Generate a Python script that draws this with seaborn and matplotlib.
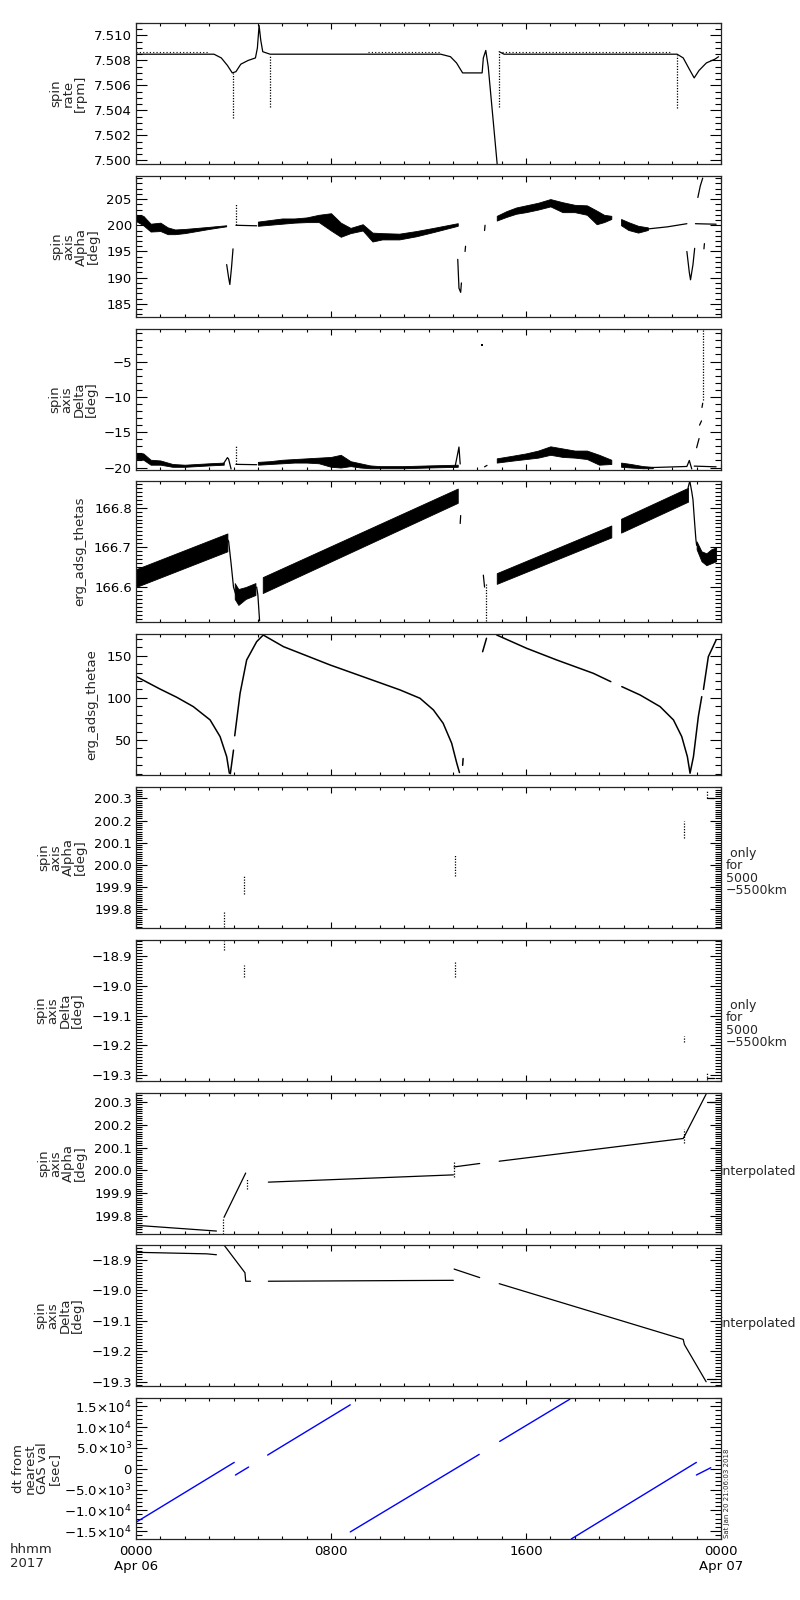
import numpy as np
import pandas as pd
import matplotlib
matplotlib.use('Agg')
import matplotlib.pyplot as plt
from matplotlib.ticker import MultipleLocator, FixedLocator, FixedFormatter, FuncFormatter
import seaborn as sns

sns.set_style('ticks')
plt.rcParams['font.family'] = ['DejaVu Sans']
plt.rcParams['font.size'] = 9

N = None  # break in a line

# panel 1: spin rate [rpm]
rate_t = [0, 3.2, 3.5, 3.75, 3.95, 4.1, 4.3, 4.6, 4.9, 4.98, 5.05, 5.12, 5.2, 5.5, 12.5, 12.9, 13.15,
          13.4, 14.2, 14.25, 14.35, 14.45, 14.85, N,
          14.9, 15.1, 22.2, 22.45, 22.7, 22.9, 23.1, 23.4, 23.75, 23.9]
rate_v = [7.5085, 7.5085, 7.5082, 7.5076, 7.5070, 7.5071, 7.5077, 7.5080, 7.5082, 7.5090, 7.5108, 7.5096,
          7.5087, 7.5085, 7.5085, 7.5083, 7.5078, 7.5070, 7.5070, 7.5082, 7.5088, 7.5075, 7.4990, N,
          7.5087, 7.5085, 7.5085, 7.5082, 7.5073, 7.5066, 7.5072, 7.5078, 7.5081, 7.5083]
rate_upper_t = [0, 3.0, N, 9.5, 12.5, N, 15.0, 22.0]
rate_upper_v = [7.50865, 7.50865, N, 7.50866, 7.50866, N, 7.50866, 7.50866]
rate_sp_t = [3.98, 5.5, 14.9, 22.2]
rate_sp_lo = [7.5034, 7.5043, 7.5043, 7.5042]
rate_sp_hi = [7.5070, 7.5084, 7.5087, 7.5084]

# panel 2: spin axis Alpha [deg]
alpha_t = [3.72, 3.8, 3.85, 3.92, 3.98, N, 4.1, 4.95, N,
           13.2, 13.25, 13.32, 13.35, N, 13.5, 13.52, N, 14.3, 14.32, N,
           21.0, 21.8, 22.6, N, 22.6, 22.7, 22.75, 22.85, 22.92, N,
           23.05, 23.15, 23.25, N, 23.3, 23.32, N, 22.95, 23.8]
alpha_v = [192.5, 190.0, 188.7, 192.0, 195.5, N, 200.0, 199.9, N,
           193.5, 188.0, 187.2, 189.0, N, 195.0, 196.0, N, 199.0, 200.0, N,
           199.3, 199.7, 200.3, N, 195.0, 191.0, 189.6, 192.5, 195.6, N,
           205.3, 207.5, 209.0, N, 195.5, 196.5, N, 200.3, 200.2]
alpha_band_t = [[0, 0.3, 0.6, 1.0, 1.3, 1.6, 2.0, 2.5, 3.0, 3.7],
                [5.0, 5.5, 6.0, 6.5, 7.0, 7.5, 8.0, 8.4, 8.8, 9.3, 9.7, 10.1, 10.8, 11.5, 12.2, 13.2],
                [14.8, 15.2, 15.6, 16.0, 16.5, 17.0, 17.5, 18.0, 18.5, 18.9, 19.2, 19.5],
                [19.9, 20.2, 20.6, 21.0]]
alpha_band_lo = [[200.8, 200.0, 198.8, 198.9, 198.3, 198.3, 198.5, 198.9, 199.3, 199.8],
                 [199.9, 200.1, 200.3, 200.5, 200.6, 200.6, 199.0, 197.8, 198.5, 199.0, 196.9, 197.3, 197.3, 197.9, 198.7, 199.9],
                 [200.9, 201.6, 202.2, 202.5, 203.0, 203.6, 202.5, 202.5, 202.0, 200.2, 200.6, 201.2],
                 [200.0, 199.1, 198.6, 199.1]]
alpha_band_hi = [[202.0, 201.8, 200.3, 200.5, 199.6, 199.2, 199.3, 199.5, 199.7, 200.0],
                 [200.7, 201.0, 201.3, 201.3, 201.5, 202.0, 202.3, 200.5, 199.5, 200.2, 198.6, 198.5, 198.4, 198.9, 199.5, 200.4],
                 [201.8, 202.7, 203.4, 203.8, 204.3, 205.0, 204.4, 203.9, 203.8, 202.8, 202.0, 201.8],
                 [201.2, 200.6, 199.9, 199.6]]
alpha_sp_t = [4.1]
alpha_sp_lo = [200.0]
alpha_sp_hi = [204.0]

# panel 3: spin axis Delta [deg]
delta_t = [3.6, 3.75, 3.8, 3.9, N, 4.1, 4.95, N, 13.1, 13.2, 13.25, 13.3, N, 14.3, 14.4, N,
           21.2, 22.6, 22.7, 22.8, N, 22.9, 23.8, N, 23.0, 23.1, N, 23.12, 23.2, N, 23.22, 23.25]
delta_v = [-19.4, -18.6, -18.8, -20.2, N, -19.55, -19.6, N, -19.7, -18.0, -17.1, -19.5, N, -19.9, -19.7, N,
           -20.0, -19.85, -19.0, -20.2, N, -19.8, -19.9, N, -17.2, -15.9, N, -14.0, -13.4, N, -11.5, -10.9]
delta_band_t = [[0, 0.3, 0.6, 1.0, 1.5, 2.0, 2.5, 3.0, 3.6],
                [5.0, 5.5, 6.0, 6.5, 7.0, 7.5, 8.0, 8.4, 8.8, 9.2, 9.6, 10.0, 11.0, 12.0, 13.2],
                [14.8, 15.5, 16.0, 16.5, 17.0, 17.5, 18.0, 18.5, 19.0, 19.5],
                [19.9, 20.3, 20.8, 21.2]]
delta_band_lo = [[-18.8, -18.9, -19.6, -19.6, -19.9, -19.9, -19.8, -19.7, -19.6],
                 [-19.6, -19.5, -19.4, -19.3, -19.3, -19.4, -19.9, -20.0, -19.8, -20.0, -20.1, -20.1, -20.1, -20.0, -19.9],
                 [-19.3, -19.0, -18.8, -18.6, -18.2, -18.5, -18.6, -18.8, -19.6, -19.5],
                 [-19.9, -20.0, -20.1, -20.1]]
delta_band_hi = [[-18.0, -18.0, -18.9, -19.0, -19.5, -19.6, -19.5, -19.4, -19.3],
                 [-19.2, -19.1, -18.9, -18.8, -18.7, -18.6, -18.5, -18.2, -19.1, -19.4, -19.7, -19.8, -19.8, -19.7, -19.6],
                 [-18.7, -18.3, -18.0, -17.6, -17.0, -17.3, -17.6, -17.6, -18.2, -18.9],
                 [-19.3, -19.5, -19.8, -19.9]]
delta_sp_t = [4.1, 23.27]
delta_sp_lo = [-19.5, -10.5]
delta_sp_hi = [-17.0, -0.4]
delta_dot_t = [14.2]
delta_dot_v = [-2.6]

# panel 4: erg_adsg_thetas
thetas_t = [3.75, 3.8, 3.9, 4.0, 4.1, N, 4.95, 5.0, 5.07, N, 13.3, 13.32, N, 14.25, 14.3, N,
            22.65, 22.72, 22.8, 22.85, 22.92, 22.97, 23.0]
thetas_v = [166.72, 166.715, 166.66, 166.60, 166.58, N, 166.60, 166.58, 166.515, N, 166.76, 166.78, N,
            166.63, 166.60, N, 166.85, 166.867, 166.84, 166.82, 166.76, 166.72, 166.705]
thetas_band_t = [[0, 3.75], [4.05, 4.2, 4.5, 4.9], [5.2, 13.2], [14.8, 19.5], [19.9, 22.65],
                 [23.0, 23.2, 23.4, 23.6, 23.8]]
thetas_band_lo = [[166.600, 166.690], [166.57, 166.555, 166.57, 166.58], [166.585, 166.812],
                  [166.608, 166.725], [166.737, 166.815], [166.695, 166.665, 166.655, 166.66, 166.665]]
thetas_band_hi = [[166.645, 166.735], [166.61, 166.595, 166.60, 166.61], [166.625, 166.848],
                  [166.635, 166.755], [166.772, 166.850], [166.715, 166.69, 166.685, 166.695, 166.70]]
thetas_sp_t = [14.35]
thetas_sp_lo = [166.515]
thetas_sp_hi = [166.61]

# panel 5: erg_adsg_thetae
thetae_t = [0.03, 0.98, 1.67, 2.35, 3.04, 3.45, 3.72, 3.83, N, 3.87, 4.0, N,
            4.05, 4.27, 4.54, 4.95, 5.22, 6.05, 7.96, 10.83, 11.65, 12.2, 12.6, 12.95, 13.16, 13.27, N,
            13.4, 13.42, N, 14.22, 14.38, N, 14.8, 16.03, 17.26, 18.76, 19.48, N,
            19.93, 20.68, 21.5, 22.05, 22.39, 22.62, 22.73, 22.87, 23.07, 23.21, N, 23.28, 23.48, 23.8]
thetae_v = [125, 110.5, 100.7, 89.6, 73.8, 54, 30.3, 10.6, N, 10, 38, N,
            55, 105.4, 144.9, 166.6, 174.5, 160.7, 139, 109.4, 99.5, 85.7, 69.9, 46.2, 22.5, 11.4, N,
            20, 28, N, 154.7, 170.6, N, 174.5, 158.7, 144.9, 129.1, 119.2, N,
            113.3, 103.4, 89.6, 73.8, 54, 30.3, 10.6, 30.3, 77.7, 101.4, N, 110, 148.8, 168.6]

# panels 6 and 7: only for 5000-5500km
only_t = [3.61, 4.45, 13.07, 22.5, 23.42]
only_alpha_lo = [199.72, 199.87, 199.95, 200.12, 200.30]
only_alpha_hi = [199.79, 199.95, 200.05, 200.20, 200.34]
only_delta_lo = [-18.88, -18.97, -18.97, -19.19, -19.315]
only_delta_hi = [-18.85, -18.93, -18.92, -19.17, -19.29]

# panels 8 and 9: interpolated
interp_alpha_t = [0.03, 3.3, N, 3.61, 4.5, N, 5.43, 13.02, N, 13.05, 14.1, N,
                  14.9, 22.45, 22.5, 23.39, N, 23.42, 23.78]
interp_alpha_v = [199.758, 199.733, N, 199.793, 199.988, N, 199.948, 199.98, N, 200.015, 200.03, N,
                  200.04, 200.14, 200.15, 200.335, N, 200.30, 200.30]
interp_alpha_sp_t = [3.55, 4.55, 13.05, 22.5]
interp_alpha_sp_lo = [199.72, 199.92, 199.97, 200.12]
interp_alpha_sp_hi = [199.79, 199.96, 200.035, 200.18]
interp_delta_t = [0.03, 2.9, 3.3, N, 3.61, 4.47, 4.5, 4.7, N, 5.43, 13.02, N, 13.05, 14.1, N,
                  14.9, 22.45, 22.5, 23.39, N, 23.42, 23.78]
interp_delta_v = [-18.875, -18.88, -18.883, N, -18.851, -18.942, -18.97, -18.97, N, -18.97, -18.967, N,
                  -18.93, -18.958, N, -18.978, -19.161, -19.178, -19.30, N, -19.29, -19.29]

# panel 10: dt from nearest GAS val [sec]
dt_t = [0, 4.03, N, 4.08, 4.62, N, 5.4, 8.79, N, 8.79, 14.08, N, 14.92, 17.8, N, 17.86, 22.99, N, 22.99, 23.58]
dt_v = [-12880, 1520, N, -1520, 400, N, 3280, 15360, N, -15200, 3440, N, 6560, 16720, N, -16880, 1520, N, -1520, 240]

xtick_pos = [0, 8, 16, 24]
xtick_lab = ['0000\nApr 06', '0800', '1600', '0000\nApr 07']
dt_ticks = [-15000, -10000, -5000, 0, 5000, 10000, 15000]
dt_labels = [r'$-$1.5$\times$10$^4$', r'$-$1.0$\times$10$^4$', r'$-$5.0$\times$10$^3$', '0',
             r'5.0$\times$10$^3$', r'1.0$\times$10$^4$', r'1.5$\times$10$^4$']

ylabels = ['spin\nrate\n[rpm]', 'spin\naxis\nAlpha\n[deg]', 'spin\naxis\nDelta\n[deg]',
           'erg_adsg_thetas', 'erg_adsg_thetae', 'spin\naxis\nAlpha\n[deg]', 'spin\naxis\nDelta\n[deg]',
           'spin\naxis\nAlpha\n[deg]', 'spin\naxis\nDelta\n[deg]', 'dt from\nnearest\nGAS val\n[sec]']
ylabel_x = [68, 75, 73, 80, 92, 62, 59, 62, 59, 36]
ylims = [(7.4997, 7.5110), (182.5, 209.4), (-20.35, -0.4), (166.512, 166.867), (8.5, 175.7),
         (199.714, 200.352), (-19.32, -18.846), (199.72, 200.34), (-19.314, -18.851), (-16900, 17000)]
ymajor = [0.002, 5, 5, 0.1, 50, 0.1, 0.1, 0.1, 0.1, 5000]
yminor = [0.0005, 1, 1, 0.01, 10, 0.01, 0.01, 0.01, 0.01, 1000]
ydec = [3, 0, 0, 1, 0, 1, 1, 1, 1, None]


def line(ax, t, v, color='black', lw=0.9, ls='-'):
    df = pd.DataFrame({'t': pd.to_numeric(pd.Series(t), errors='coerce'),
                       'v': pd.to_numeric(pd.Series(v), errors='coerce')})
    df['seg'] = df['v'].isna().cumsum()
    df = df.dropna()
    sns.lineplot(data=df, x='t', y='v', units='seg', estimator=None, sort=False,
                 color=color, lw=lw, ls=ls, ax=ax, legend=False)
    ax.set_xlabel('')
    ax.set_ylabel('')


def bands(ax, ts, los, his):
    for t, lo, hi in zip(ts, los, his):
        ax.fill_between(t, lo, hi, color='black', lw=0.6)


def spikes(ax, t, lo, hi):
    ax.vlines(t, lo, hi, colors='black', lw=0.9, linestyles=(0, (1, 1.2)))


def minus_fmt(dec):
    return FuncFormatter(lambda y, pos: f'{y:.{dec}f}'.replace('-', '\u2212'))


fig = plt.figure(figsize=(8, 16), dpi=100)
tops = [23, 176, 329, 481, 634, 787, 940, 1093, 1245, 1398]
H = 141
axes = []
for i, top in enumerate(tops):
    ax = fig.add_axes([136 / 800, 1 - (top + H) / 1600, 585 / 800, H / 1600])
    axes.append(ax)

line(axes[0], rate_t, rate_v)
line(axes[0], rate_upper_t, rate_upper_v, lw=0.8, ls=(0, (1, 2)))
spikes(axes[0], rate_sp_t, rate_sp_lo, rate_sp_hi)

bands(axes[1], alpha_band_t, alpha_band_lo, alpha_band_hi)
line(axes[1], alpha_t, alpha_v)
spikes(axes[1], alpha_sp_t, alpha_sp_lo, alpha_sp_hi)

bands(axes[2], delta_band_t, delta_band_lo, delta_band_hi)
line(axes[2], delta_t, delta_v)
spikes(axes[2], delta_sp_t, delta_sp_lo, delta_sp_hi)
sns.scatterplot(x=delta_dot_t, y=delta_dot_v, ax=axes[2], color='black', s=3, marker='s', lw=0)

bands(axes[3], thetas_band_t, thetas_band_lo, thetas_band_hi)
line(axes[3], thetas_t, thetas_v)
spikes(axes[3], thetas_sp_t, thetas_sp_lo, thetas_sp_hi)

line(axes[4], thetae_t, thetae_v, lw=1.1)

spikes(axes[5], only_t, only_alpha_lo, only_alpha_hi)
line(axes[5], [23.42, 23.7], [200.30, 200.30])
spikes(axes[6], only_t, only_delta_lo, only_delta_hi)
line(axes[6], [23.42, 23.7], [-19.31, -19.31])

line(axes[7], interp_alpha_t, interp_alpha_v)
spikes(axes[7], interp_alpha_sp_t, interp_alpha_sp_lo, interp_alpha_sp_hi)
line(axes[8], interp_delta_t, interp_delta_v)

line(axes[9], dt_t, dt_v, color='#0000ff', lw=1.0)

for i, ax in enumerate(axes):
    ax.set_xlim(0, 24)
    ax.set_ylim(*ylims[i])
    ax.xaxis.set_major_locator(FixedLocator(xtick_pos))
    ax.xaxis.set_minor_locator(MultipleLocator(1))
    if i == 9:
        ax.yaxis.set_major_locator(FixedLocator(dt_ticks))
        ax.yaxis.set_major_formatter(FixedFormatter(dt_labels))
        ax.xaxis.set_major_formatter(FixedFormatter(xtick_lab))
    else:
        ax.yaxis.set_major_locator(MultipleLocator(ymajor[i]))
        ax.yaxis.set_major_formatter(minus_fmt(ydec[i]))
        ax.set_xticklabels([])
    ax.yaxis.set_minor_locator(MultipleLocator(yminor[i]))
    ax.tick_params(axis='both', which='both', direction='in', top=True, right=True,
                   width=0.8, colors='black', labelsize=9.5)
    ax.tick_params(axis='x', which='major', length=4, pad=4)
    ax.tick_params(axis='x', which='minor', length=2.2)
    ax.tick_params(axis='y', which='major', length=8, pad=3)
    ax.tick_params(axis='y', which='minor', length=4.2)
    for s in ax.spines.values():
        s.set_linewidth(0.9)
        s.set_visible(True)
    yc = tops[i] + H / 2
    fig.text(ylabel_x[i] / 800, 1 - yc / 1600, ylabels[i], rotation=90, ha='center', va='center',
             multialignment='center', linespacing=0.9, fontsize=9.5)

fig.text(726 / 800, 1 - 872 / 1600, ' only\nfor\n5000\n\u22125500km', ha='left', va='center',
         linespacing=0.95, fontsize=9)
fig.text(726 / 800, 1 - 1024 / 1600, ' only\nfor\n5000\n\u22125500km', ha='left', va='center',
         linespacing=0.95, fontsize=9)
fig.text(720 / 800, 1 - 1172 / 1600, 'interpolated', ha='left', va='center', fontsize=9)
fig.text(720 / 800, 1 - 1323 / 1600, 'interpolated', ha='left', va='center', fontsize=9)
fig.text(10 / 800, 1 - 1543 / 1600, 'hhmm\n2017', ha='left', va='top', fontsize=9.5, linespacing=1.1)
fig.text(724 / 800, 1 - 1538 / 1600, 'Sat Jan 20 21:06:03 2018', rotation=90, ha='left', va='bottom',
         fontsize=5)

fig.savefig('out.png', dpi=100)
